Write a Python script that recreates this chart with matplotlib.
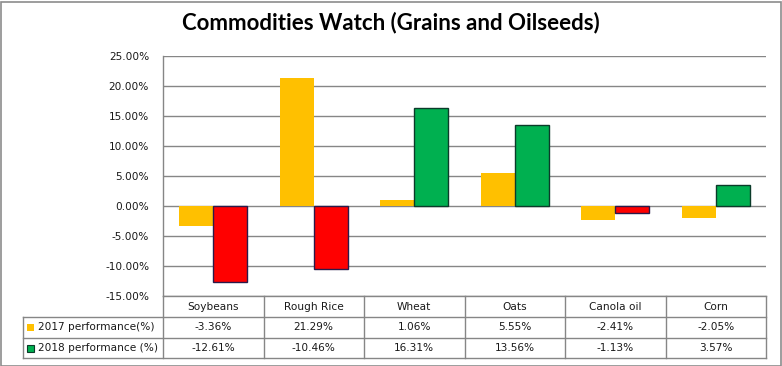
import matplotlib.pyplot as plt
from matplotlib.patches import Rectangle
import numpy as np

categories = ["Soybeans", "Rough Rice", "Wheat", "Oats", "Canola oil", "Corn"]
perf_2017 = [-3.36, 21.29, 1.06, 5.55, -2.41, -2.05]
perf_2018 = [-12.61, -10.46, 16.31, 13.56, -1.13, 3.57]
series_labels = ["2017 performance(%)", "2018 performance (%)"]

W, H = 782, 366
fig = plt.figure(figsize=(W / 100, H / 100), dpi=100)
fig.patch.set_facecolor("white")
fig.patches.append(Rectangle((0.5 / W, 0.5 / H), 1 - 2 / W, 1 - 2 / H,
                             transform=fig.transFigure, fill=False,
                             edgecolor="#8c8c8c", linewidth=1.2))

# plot area in pixels
left, right, top, bottom = 163, 766, 56, 296
ax = fig.add_axes([left / W, 1 - bottom / H, (right - left) / W, (bottom - top) / H])

x = np.arange(len(categories))
bw = 0.34
ax.bar(x - bw / 2, perf_2017, width=bw, color="#FFC000", linewidth=0, zorder=3)
col18 = ["#00B050" if v >= 0 else "#FF0000" for v in perf_2018]
edge18 = ["#0B3B2A" if v >= 0 else "#2A1A4A" for v in perf_2018]
ax.bar(x + bw / 2, perf_2018, width=bw, color=col18, edgecolor=edge18,
       linewidth=1.0, zorder=3)

ax.set_xlim(-0.5, len(categories) - 0.5)
ax.set_ylim(-15, 25)
ax.set_yticks(np.arange(-15, 26, 5))
ax.set_yticklabels([f"{v:.2f}%" for v in np.arange(-15, 26, 5)])
ax.yaxis.grid(True, color="#868686", linewidth=1.0, zorder=0)
ax.tick_params(axis="y", length=0, pad=10, labelsize=7.6, labelcolor="#1a1a1a")
ax.set_xticks([])
for s in ["top", "right", "bottom"]:
    ax.spines[s].set_visible(False)
ax.spines["left"].set_color("#868686")
ax.spines["left"].set_linewidth(1.0)

# data table below the plot
tr = ax.transAxes
ph = bottom - top
pw = right - left
def ay(py):
    return (bottom - py) / ph
def ax_x(px):
    return (px - left) / pw

row_y = [296, 317, 338, 358]
line_kw = dict(transform=tr, clip_on=False, color="#868686", linewidth=1.0)
ax.plot([0, 1], [ay(row_y[0])] * 2, **line_kw)
for yy in row_y[1:]:
    ax.plot([ax_x(23), 1], [ay(yy)] * 2, **line_kw)
for i in range(len(categories) + 1):
    xb = i / len(categories)
    ax.plot([xb, xb], [ay(row_y[0]), ay(row_y[-1])], **line_kw)
ax.plot([ax_x(23), ax_x(23)], [ay(row_y[1]), ay(row_y[-1])], **line_kw)

txt_kw = dict(fontsize=7.6, color="#1a1a1a", ha="center", va="center",
              clip_on=False)
for i, c in enumerate(categories):
    xc = (i + 0.5) / len(categories)
    ax.text(xc, ay((row_y[0] + row_y[1]) / 2), c, transform=tr, **txt_kw)
    ax.text(xc, ay((row_y[1] + row_y[2]) / 2), f"{perf_2017[i]:.2f}%",
            transform=tr, **txt_kw)
    ax.text(xc, ay((row_y[2] + row_y[3]) / 2), f"{perf_2018[i]:.2f}%",
            transform=tr, **txt_kw)

sq_colors = [("#FFC000", "none"), ("#00B050", "#0B3B2A")]
for r, lab in enumerate(series_labels):
    yc = (row_y[r + 1] + row_y[r + 2]) / 2
    fc, ec = sq_colors[r]
    ax.add_patch(Rectangle((ax_x(27), ay(yc + 3.5)), 7 / pw, 7 / ph,
                           transform=tr, clip_on=False, facecolor=fc,
                           edgecolor=ec, linewidth=0.8))
    ax.text(ax_x(38), ay(yc), lab, transform=tr, fontsize=7.6,
            color="#1a1a1a", ha="left", va="center", clip_on=False)

fig.text(391 / W, 1 - 23 / H, "Commodities Watch (Grains and Oilseeds)",
         ha="center", va="center", fontsize=16, fontweight="bold",
         family=["Lato", "DejaVu Sans"], color="black")

fig.savefig("out.png", dpi=100, facecolor="white")
